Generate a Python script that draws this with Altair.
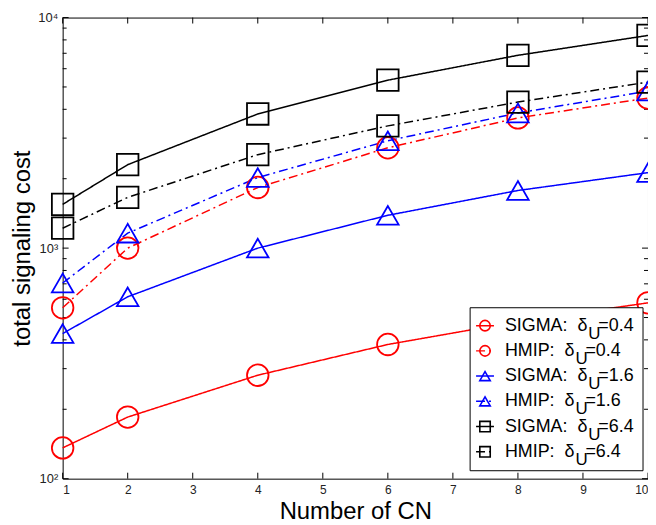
import altair as alt
import pandas as pd

# ---------------- data ----------------
cn = [1, 2, 4, 6, 8, 10]
sigma_04 = [136, 185, 281, 382, 480, 579]
hmip_04 = [551, 1000, 1832, 2724, 3670, 4477]
sigma_16 = [426, 615, 1000, 1388, 1778, 2125]
hmip_16 = [706, 1161, 2023, 2921, 3857, 4797]
sigma_64 = [1548, 2301, 3818, 5350, 6860, 8365]
hmip_64 = [1220, 1660, 2543, 3390, 4300, 5248]

series_ids = ["s04", "h04", "s16", "h16", "s64", "h64"]
series_names = ["SIGMA", "HMIP", "SIGMA", "HMIP", "SIGMA", "HMIP"]
series_delta = ["0.4", "0.4", "1.6", "1.6", "6.4", "6.4"]
series_values = [sigma_04, hmip_04, sigma_16, hmip_16, sigma_64, hmip_64]

x_ticks = [1, 2, 3, 4, 5, 6, 7, 8, 9, 10]
y_major = [100, 1000, 10000]
y_minor = [200, 300, 400, 500, 600, 700, 800, 900,
           2000, 3000, 4000, 5000, 6000, 7000, 8000, 9000]
y_labels = {100: "10²", 1000: "10³", 10000: "10⁴"}

# ---------------- tables ----------------
rows = []
for sid, vals in zip(series_ids, series_values):
    for xv, yv in zip(cn, vals):
        rows.append({"series": sid, "cn": xv, "cost": yv})
df = pd.DataFrame(rows)

leg = pd.DataFrame({
    "series": series_ids,
    "name": series_names,
    "delta": series_delta,
    "row": list(range(len(series_ids))),
})

W, H = 589, 464
FONT = "Liberation Sans"

colors = ["#ff0000", "#ff0000", "#0000ff", "#0000ff", "#000000", "#000000"]
shapes = ["circle", "circle", "triangle-up", "triangle-up", "square", "square"]
dashes = [[1, 0], [9, 4, 2, 4], [1, 0], [9, 4, 2, 4], [1, 0], [9, 4, 2, 4]]
sizes = [470, 470, 680, 680, 200, 200]
leg_sizes = [110, 110, 190, 190, 80, 80]

color_enc = alt.Color("series:N", scale=alt.Scale(domain=series_ids, range=colors), legend=None)
dash_enc = alt.StrokeDash("series:N", scale=alt.Scale(domain=series_ids, range=dashes), legend=None)
shape_enc = alt.Shape("series:N", scale=alt.Scale(domain=series_ids, range=shapes), legend=None)

xscale = alt.Scale(domain=[1, 10], nice=False, zero=False)
yscale = alt.Scale(type="log", domain=[100, 10000], nice=False)

label_expr = " : ".join(
    [f"datum.value == {k} ? '{v}'" for k, v in y_labels.items()]) + " : ''"

lines = alt.Chart(df).mark_line(strokeWidth=1.5).encode(
    x=alt.X("cn:Q", scale=xscale,
            axis=alt.Axis(values=x_ticks, format="d", title="Number of CN", ticks=False,
                          domain=False, grid=False, labelFontSize=12, labelPadding=6,
                          titleFontSize=24, titleFontWeight="normal", titlePadding=4,
                          labelColor="#222", titleColor="#000")),
    y=alt.Y("cost:Q", scale=yscale,
            axis=alt.Axis(values=y_major, labelExpr=label_expr, title="total signaling cost",
                          ticks=False, domain=False, grid=False, labelFontSize=13,
                          labelPadding=5, titleFontSize=24, titleFontWeight="normal",
                          titlePadding=3, labelColor="#222", titleColor="#000")),
    color=color_enc,
    strokeDash=dash_enc,
    detail="series:N",
)

points = alt.Chart(df).mark_point(filled=False, strokeWidth=1.8, opacity=1).encode(
    x=alt.X("cn:Q", scale=xscale),
    y=alt.Y("cost:Q", scale=yscale),
    color=color_enc,
    shape=shape_enc,
    size=alt.Size("series:N", scale=alt.Scale(domain=series_ids, range=sizes), legend=None),
)

xt = pd.DataFrame({"v": x_ticks})
ymaj = pd.DataFrame({"v": y_major})
ymin = pd.DataFrame({"v": y_minor})

tick_style = dict(color="black", strokeWidth=1)
xb = alt.Chart(xt).mark_rule(**tick_style).encode(
    x=alt.X("v:Q", scale=xscale), y=alt.value(H), y2=alt.value(H - 6))
xtp = alt.Chart(xt).mark_rule(**tick_style).encode(
    x=alt.X("v:Q", scale=xscale), y=alt.value(0), y2=alt.value(6))
yl = alt.Chart(ymaj).mark_rule(**tick_style).encode(
    y=alt.Y("v:Q", scale=yscale), x=alt.value(0), x2=alt.value(6))
yr = alt.Chart(ymaj).mark_rule(**tick_style).encode(
    y=alt.Y("v:Q", scale=yscale), x=alt.value(W - 6), x2=alt.value(W))
yml = alt.Chart(ymin).mark_rule(**tick_style).encode(
    y=alt.Y("v:Q", scale=yscale), x=alt.value(0), x2=alt.value(4))
ymr = alt.Chart(ymin).mark_rule(**tick_style).encode(
    y=alt.Y("v:Q", scale=yscale), x=alt.value(W - 4), x2=alt.value(W))

main = alt.layer(lines, xb, xtp, yl, yr, yml, ymr, points)

# ---------------- hand-built legend ----------------
rowscale = alt.Scale(domain=[0, 5], range=[310, 437])
pxscale = alt.Scale(domain=[0, W], range=[0, W])
row_y = alt.Y("row:Q", scale=rowscale, axis=None)

box = alt.Chart(pd.DataFrame({"a": [0]})).mark_rect(
    fill="white", stroke="black", strokeWidth=1).encode(
    x=alt.value(410), x2=alt.value(584), y=alt.value(292), y2=alt.value(456))

NB = "\u00a0"
leg_base = alt.Chart(leg).transform_calculate(
    label=f"datum.name + ':{NB}{NB}δ'",
    val="'=' + datum.delta",
    ux="datum.name == 'SIGMA' ? 529 : 516",
    ex="datum.name == 'SIGMA' ? 539 : 526",
)

leg_rule = leg_base.mark_rule(strokeWidth=1.5).encode(
    x=alt.value(416), x2=alt.value(434), y=row_y, color=color_enc, strokeDash=dash_enc)
leg_pt = leg_base.mark_point(filled=False, strokeWidth=1.6, opacity=1).encode(
    x=alt.value(425), y=row_y, color=color_enc, shape=shape_enc,
    size=alt.Size("series:N", scale=alt.Scale(domain=series_ids, range=leg_sizes), legend=None))
txt_style = dict(font=FONT, baseline="middle", align="left", color="black")
leg_t1 = leg_base.mark_text(fontSize=18, **txt_style).encode(
    x=alt.value(445), y=row_y, text="label:N")
leg_t2 = leg_base.mark_text(dy=8, fontSize=17, **txt_style).encode(
    x=alt.X("ux:Q", scale=pxscale, axis=None), y=row_y, text=alt.value("U"))
leg_t3 = leg_base.mark_text(fontSize=18, **txt_style).encode(
    x=alt.X("ex:Q", scale=pxscale, axis=None), y=row_y, text="val:N")

legend = alt.layer(box, leg_rule, leg_pt, leg_t1, leg_t2, leg_t3)

chart = alt.layer(main, legend).resolve_scale(
    x="independent", y="independent", size="independent"
).properties(
    width=W, height=H,
    autosize=alt.AutoSizeParams(type="none"),
    padding={"left": 55, "top": 8, "right": 0, "bottom": 45},
).configure(font=FONT).configure_view(stroke="black", strokeWidth=1)

chart.save("out.html", embed_options={"renderer": "svg", "actions": False})
